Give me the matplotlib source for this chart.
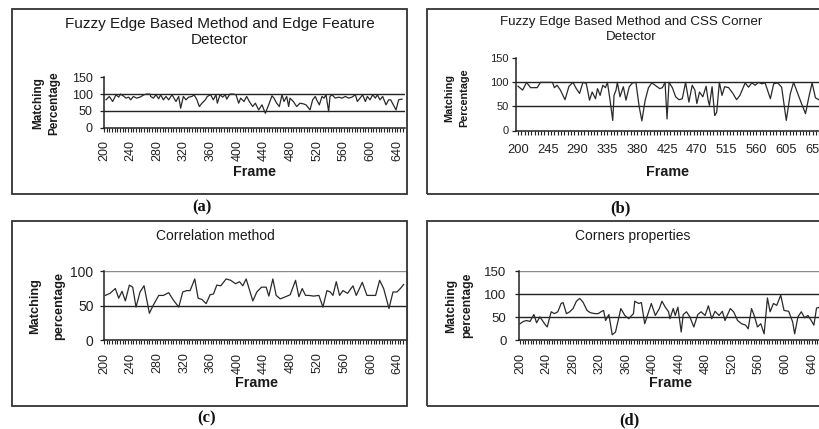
import matplotlib
matplotlib.use("Agg")
import matplotlib.pyplot as plt
from matplotlib.patches import Rectangle
import numpy as np

W, H = 820, 429

# ---------------- data ----------------
titles = ["Fuzzy Edge Based Method and Edge Feature\nDetector",
          "Fuzzy Edge Based Method and CSS Corner\nDetector",
          "Correlation method",
          "Corners properties"]
ylabels = [("Matching", "Percentage"), ("Matching", "Percentage"),
           ("Matching", "percentage"), ("Matching", "percentage")]
captions = ["(a)", "(b)", "(c)", "(d)"]

frames_a = [203, 208, 213, 218, 222, 225, 230, 233, 237, 240, 244, 249, 254, 260, 264, 269,
            270, 274, 278, 282, 285, 289, 293, 297, 302, 308, 312, 315, 319, 323, 327, 332,
            335, 339, 343, 347, 352, 355, 360, 364, 368, 370, 374, 378, 382, 384, 389, 394,
            398, 402, 405, 410, 414, 418, 423, 427, 432, 437, 442, 447, 452, 455, 459, 463,
            467, 470, 474, 477, 479, 484, 489, 494, 499, 503, 507, 509, 513, 517, 519, 523,
            527, 530, 533, 537, 539, 542, 547, 552, 557, 562, 567, 572, 577, 580, 584, 588,
            592, 595, 599, 603, 607, 610, 614, 618, 623, 627, 630, 634, 638, 642, 647]
values_a = [83, 93, 78, 98, 91, 100, 93, 88, 91, 83, 93, 88, 91, 98, 100, 100,
            93, 88, 98, 86, 98, 83, 93, 83, 98, 78, 93, 58, 93, 83, 91, 93,
            98, 85, 63, 73, 83, 93, 98, 83, 98, 73, 98, 91, 98, 85, 100, 100,
            98, 73, 88, 78, 93, 78, 63, 73, 53, 68, 43, 68, 95, 88, 73, 63,
            98, 78, 93, 63, 88, 78, 63, 73, 71, 68, 58, 53, 83, 93, 83, 68,
            93, 88, 98, 48, 93, 98, 88, 91, 88, 93, 88, 91, 98, 78, 88, 98,
            78, 93, 83, 98, 88, 98, 83, 93, 68, 83, 83, 68, 53, 83, 85]

frames_b = [200, 207, 213, 219, 225, 229, 234, 252, 255, 259, 264, 271, 277, 283, 288, 293,
            298, 303, 308, 312, 317, 320, 324, 328, 332, 335, 339, 343, 345, 348, 350, 354,
            359, 363, 368, 373, 378, 383, 387, 392, 397, 402, 409, 414, 418, 422, 425, 428,
            433, 438, 443, 448, 453, 458, 463, 467, 470, 474, 479, 484, 487, 489, 493, 497,
            500, 504, 508, 512, 518, 524, 530, 535, 543, 548, 553, 558, 563, 568, 573, 581,
            586, 592, 598, 605, 611, 616, 628, 634, 639, 644, 649, 654]
values_b = [92, 84, 100, 89, 89, 89, 100, 100, 89, 94, 84, 64, 92, 100, 87, 77,
            100, 98, 63, 80, 66, 87, 73, 94, 89, 100, 63, 21, 73, 84, 100, 70,
            91, 63, 91, 99, 100, 49, 20, 63, 89, 99, 92, 87, 89, 100, 24, 100,
            89, 70, 64, 66, 100, 59, 94, 84, 56, 80, 70, 92, 63, 52, 91, 31,
            38, 100, 73, 91, 89, 78, 64, 73, 99, 90, 99, 94, 100, 97, 99, 66,
            97, 99, 90, 21, 76, 100, 56, 35, 69, 99, 68, 64]

frames_c = [202, 209, 217, 222, 227, 232, 238, 243, 248, 254, 260, 268, 274, 282, 289, 297,
            304, 312, 318, 324, 329, 336, 341, 347, 353, 359, 364, 369, 375, 383, 390, 397,
            403, 408, 413, 423, 429, 436, 443, 447, 453, 458, 464, 472, 479, 487, 492, 497,
            502, 507, 514, 522, 528, 534, 539, 543, 548, 553, 558, 565, 573, 578, 587, 594,
            602, 607, 613, 619, 627, 633, 639, 644, 649]
values_c = [65, 68, 75, 61, 71, 57, 80, 77, 48, 70, 79, 39, 51, 65, 65, 69,
            58, 48, 70, 72, 72, 89, 61, 59, 53, 66, 67, 80, 79, 89, 87, 82,
            85, 79, 89, 57, 70, 77, 77, 64, 89, 65, 60, 63, 66, 87, 63, 75,
            65, 65, 64, 65, 48, 72, 70, 65, 85, 65, 72, 68, 79, 65, 84, 65,
            65, 65, 87, 75, 46, 70, 70, 75, 81]

frames_d = [200, 205, 210, 215, 221, 225, 230, 237, 241, 247, 252, 257, 262, 265, 270, 275,
            280, 285, 290, 295, 301, 306, 313, 318, 322, 326, 329, 334, 339, 344, 352, 358,
            364, 371, 373, 379, 383, 388, 393, 398, 404, 410, 414, 419, 424, 426, 431, 434,
            438, 443, 446, 451, 456, 462, 468, 473, 479, 484, 489, 494, 500, 505, 509, 517,
            522, 528, 534, 540, 544, 549, 553, 558, 563, 568, 573, 577, 582, 587, 593, 598,
            605, 611, 614, 619, 624, 629, 634, 639, 643, 647, 652]
values_d = [36, 41, 43, 41, 56, 38, 51, 36, 29, 62, 58, 62, 80, 82, 58, 62,
            69, 85, 91, 83, 65, 60, 58, 58, 62, 65, 43, 56, 12, 18, 69, 54,
            47, 58, 85, 80, 82, 36, 58, 80, 54, 69, 85, 72, 62, 47, 69, 54,
            72, 18, 56, 62, 51, 29, 56, 62, 54, 75, 47, 63, 54, 63, 43, 69,
            62, 43, 36, 33, 25, 69, 54, 29, 36, 14, 92, 62, 80, 76, 98, 65,
            63, 40, 14, 51, 62, 49, 54, 43, 33, 70, 72]

yticks_list = [[0, 50, 100, 150], [0, 50, 100, 150], [0, 50, 100], [0, 50, 100, 150]]
dark_grid = [[50, 100], [50, 100], [50], [50, 100]]
light_grid = [[], [], [100], [150]]
xtick_major = [list(range(200, 641, 40)), list(range(200, 651, 45)),
               list(range(200, 641, 40)), list(range(200, 641, 40))]
xtick_minor_step = [4, 5, 4, 4]

# ---------------- layout ----------------
plt.rcParams['font.family'] = ['Liberation Sans', 'DejaVu Sans']
fig = plt.figure(figsize=(W / 100, H / 100), dpi=100)
fig.patch.set_facecolor('white')


def fx(x):
    return x / W


def fy(y):
    return 1 - y / H


def add_ax(l, t, r, b):
    return fig.add_axes([l / W, 1 - b / H, (r - l) / W, (b - t) / H])


# panel borders (pixel boxes)
borders = [(12, 9, 407, 194), (427, 9, 835, 194), (12, 221, 407, 406), (427, 221, 835, 406)]
for (l, t, r, b) in borders:
    fig.add_artist(Rectangle((fx(l), fy(b)), (r - l) / W, (b - t) / H,
                             transform=fig.transFigure, fill=False,
                             ec='#333333', lw=1.3))

# axes boxes and x limits
ax_boxes = [(104, 77.3, 405, 127.7), (516, 58.3, 830, 130.5),
            (104, 271.4, 407, 340), (519, 271.3, 830, 340.3)]
xlims = [(200, 651.5), (197, 671), (200, 654), (198.5, 667.3)]
ylims = [(0, 150), (0, 150), (0, 100), (0, 150)]
frames_all = [frames_a, frames_b, frames_c, frames_d]
values_all = [values_a, values_b, values_c, values_d]

ytick_fs = [9, 8, 10, 9.5]
xtick_fs = [9, 9.3, 9, 9]
xrot = [90, 0, 90, 90]
xpad = [6, 7, 6, 6]
ypad = [5, 2.5, 4.5, 6]

for i in range(4):
    ax = add_ax(*ax_boxes[i])
    ax.set_facecolor('none')
    ax.plot(frames_all[i], values_all[i], color='#2a2a2a', lw=0.9, zorder=3,
            clip_on=True)
    for g in dark_grid[i]:
        ax.axhline(g, color='#222222', lw=1.0, zorder=2)
    for g in light_grid[i]:
        ax.axhline(g, color='#8a8a8a', lw=1.0, zorder=2)
    ax.set_xlim(*xlims[i])
    ax.set_ylim(*ylims[i])
    for s in ['top', 'right']:
        ax.spines[s].set_visible(False)
    if i == 2:
        ax.spines['right'].set_visible(True)
        ax.spines['right'].set_color('#8a8a8a')
    for s in ['left', 'bottom']:
        ax.spines[s].set_color('#222222')
        ax.spines[s].set_linewidth(1.1)
    ax.set_yticks(yticks_list[i])
    ax.set_xticks(xtick_major[i])
    ax.set_xticks(np.arange(xtick_major[i][0], xlims[i][1], xtick_minor_step[i]), minor=True)
    ax.tick_params(axis='y', direction='out', length=3, width=0.9,
                   labelsize=ytick_fs[i], pad=ypad[i], colors='#222222')
    ax.tick_params(axis='x', which='both', direction='out', length=3, width=0.8,
                   labelsize=xtick_fs[i], pad=xpad[i], colors='#222222',
                   labelrotation=xrot[i])

# titles
title_pos = [(220, 31.7, 11, 1.2), (631, 29.5, 9.6, 1.35), (215, 236, 10, 1.2), (633, 236, 10, 1.2)]
for i, (x, y, fs, ls) in enumerate(title_pos):
    fig.text(fx(x), fy(y), titles[i], ha='center', va='center', fontsize=fs,
             linespacing=ls, color='#1a1a1a')

# y labels (two rotated lines)
ylab_pos = [((38, 54), 103, 8.5), ((449, 464.5), 97.5, 7.8),
            ((35.5, 59), 305.7, 9.2), ((451, 467.5), 305.7, 8.8)]
for i, ((x1, x2), y, fs) in enumerate(ylab_pos):
    fig.text(fx(x1), fy(y), ylabels[i][0], rotation=90, ha='center', va='center',
             fontsize=fs, fontweight='bold', color='#1a1a1a')
    fig.text(fx(x2), fy(y), ylabels[i][1], rotation=90, ha='center', va='center',
             fontsize=fs, fontweight='bold', color='#1a1a1a')

# x labels
xlab_pos = [(255, 172.5), (668, 172.5), (257, 383), (671, 383)]
for (x, y) in xlab_pos:
    fig.text(fx(x), fy(y), "Frame", ha='center', va='center', fontsize=10.3,
             fontweight='bold', color='#1a1a1a')

# captions
cap_pos = [(202, 207.5), (620, 208.5), (207, 418), (629, 420)]
for i, (x, y) in enumerate(cap_pos):
    fig.text(fx(x), fy(y), captions[i], ha='center', va='center', fontsize=12,
             fontweight='bold', family=['Liberation Serif', 'DejaVu Serif'],
             color='#111111')

fig.savefig("out.png", dpi=100, facecolor='white')
